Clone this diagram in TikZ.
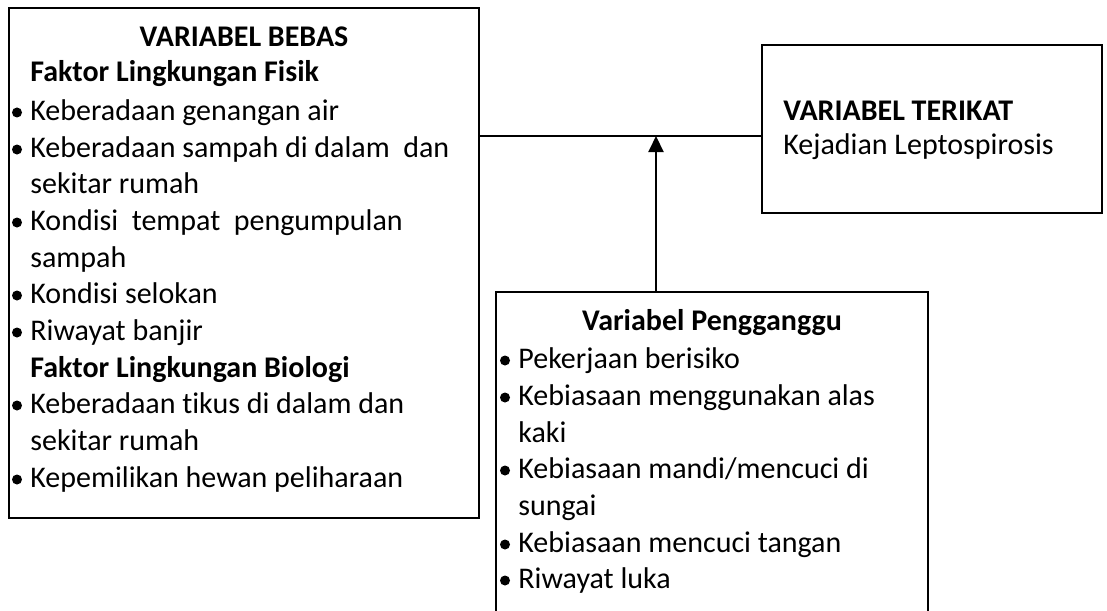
\documentclass[tikz,border=0pt]{standalone}
\usepackage{fontspec}
\setmainfont{Carlito}[Ligatures={NoCommon}]
\usetikzlibrary{arrows.meta}
\begin{document}
\begin{tikzpicture}[x=0.5pt,y=-0.5pt,
  box/.style={draw,line width=1pt,inner sep=0pt},
  txt/.style={anchor=base west,inner sep=0pt,font=\fontsize{15}{18.35}\selectfont},
  ttl/.style={anchor=base,inner sep=0pt,font=\fontsize{15}{18.35}\selectfont\bfseries},
  bul/.style={circle,fill,inner sep=0pt,minimum size=5pt},
  conn/.style={line width=1pt}]
\useasboundingbox (0,0) rectangle (1107,610);
\clip (0,0) rectangle (1107,610);
% boxes
\node[box,minimum width=235pt,minimum height=255pt] (bebas) at (244,263) {};
\node[box,minimum width=170pt,minimum height=84pt] (terikat) at (932,129) {};
\node[box,minimum width=216pt,minimum height=180pt] (ganggu) at (712,472) {};
% connectors
\coordinate (j) at (656,136);
\draw[conn] (bebas.east|-j) -- (terikat.west|-j);
\draw[conn,-{Triangle[width=7.5pt,length=8pt]}] (ganggu.north-|j) -- (j);
% left box text
\node[ttl] (t1) at (244,47) {VARIABEL BEBAS};
\node[txt,font=\fontsize{15}{18.35}\selectfont\bfseries] (h1) at (30,82) {Faktor Lingkungan Fisik};
\node[txt] (a1) at (30,120) {Keberadaan genangan air};
\node[txt] (a2) at (30,157) {Keberadaan sampah di dalam\ \ dan};
\node[txt] (a3) at (30,193) {sekitar rumah};
\node[txt] (a4) at (30,230) {Kondisi\ \ tempat\ \ pengumpulan};
\node[txt] (a5) at (30,267) {sampah};
\node[txt] (a6) at (30,303) {Kondisi selokan};
\node[txt] (a7) at (30,340) {Riwayat banjir};
\node[txt,font=\fontsize{15}{18.35}\selectfont\bfseries] (h2) at (30,377) {Faktor Lingkungan Biologi};
\node[txt] (a8) at (30,413) {Keberadaan tikus di dalam dan};
\node[txt] (a9) at (30,450) {sekitar rumah};
\node[txt] (a10) at (30,487) {Kepemilikan hewan peliharaan};
\foreach \y [count=\i] in {120,157,230,303,340,413,487}
  \node[bul] (bl\i) at (17,\y-7.5) {};
% right box text
\node[txt,font=\fontsize{15}{18.35}\selectfont\bfseries] (t2) at (783,120) {VARIABEL TERIKAT};
\node[txt] (r1) at (783,155) {Kejadian Leptospirosis};
% bottom box text
\node[ttl] (t3) at (712,330) {Variabel Pengganggu};
\node[txt] (b1) at (518,368) {Pekerjaan berisiko};
\node[txt] (b2) at (518,405) {Kebiasaan menggunakan alas};
\node[txt] (b3) at (518,442) {kaki};
\node[txt] (b4) at (518,478) {Kebiasaan mandi/mencuci di};
\node[txt] (b5) at (518,515) {sungai};
\node[txt] (b6) at (518,552) {Kebiasaan mencuci tangan};
\node[txt] (b7) at (518,588) {Riwayat luka};
\foreach \y [count=\i] in {368,405,478,552,588}
  \node[bul] (bb\i) at (505,\y-7.5) {};
\end{tikzpicture}
\end{document}
